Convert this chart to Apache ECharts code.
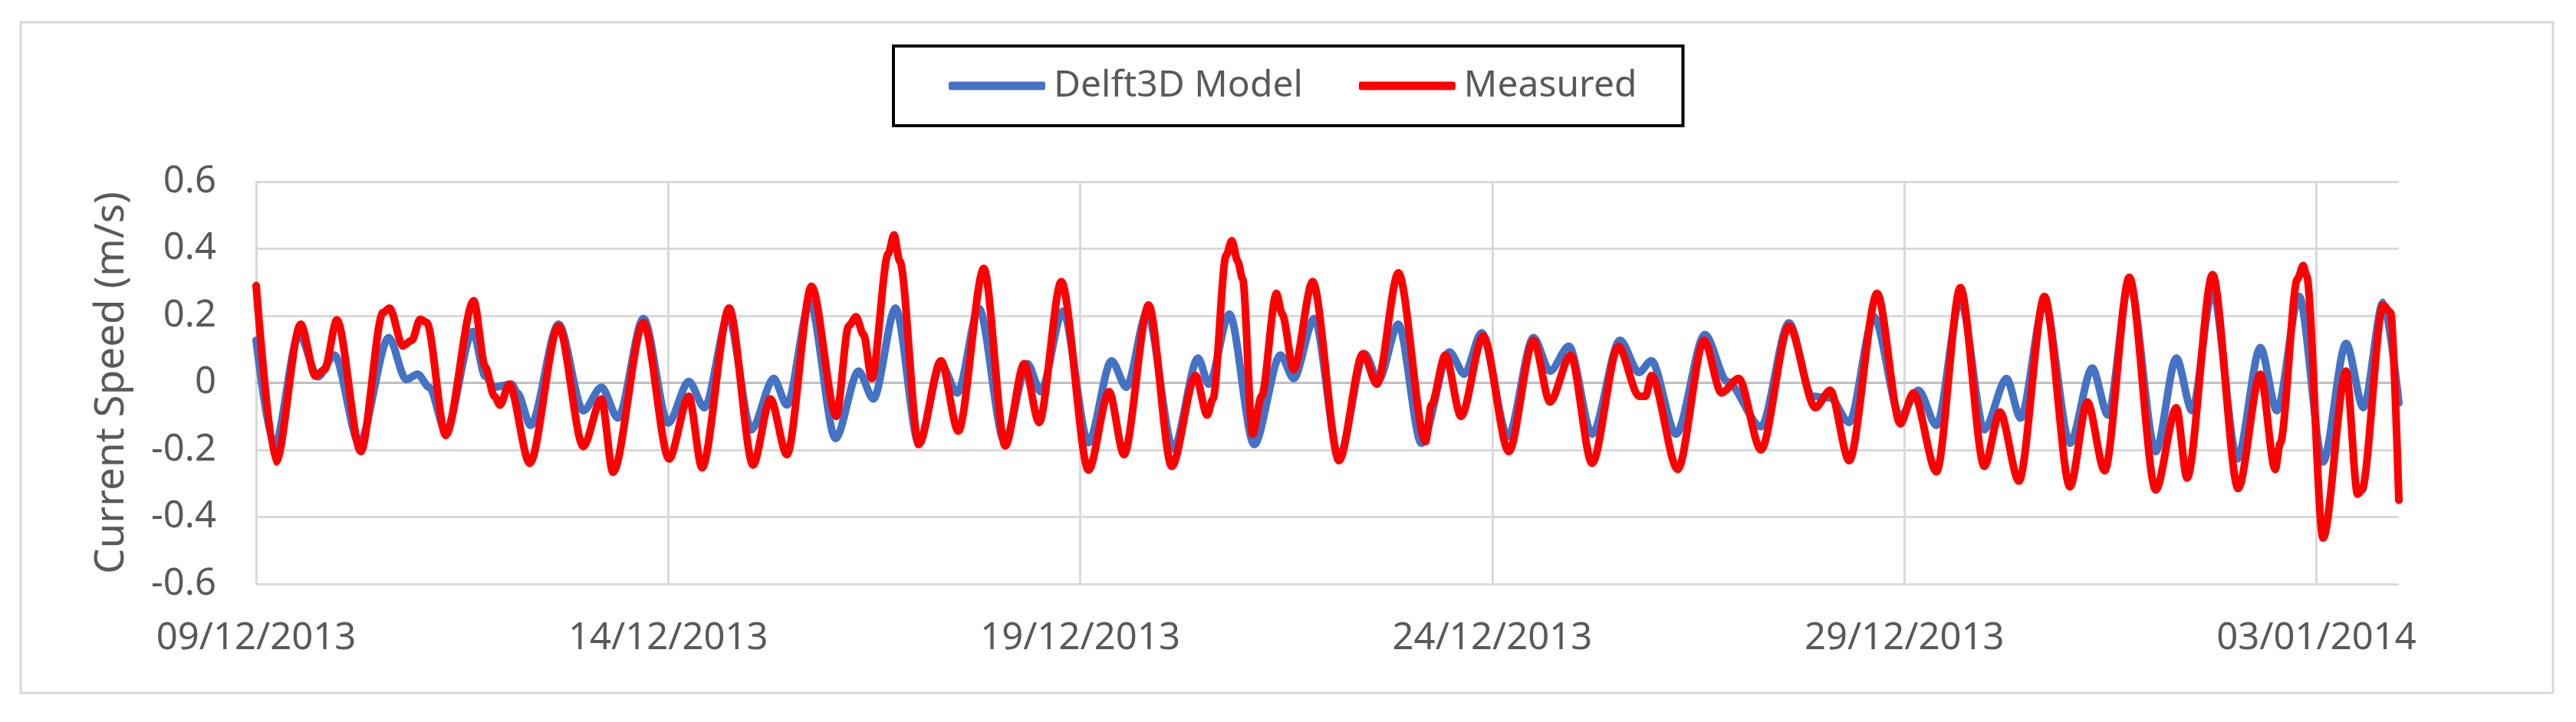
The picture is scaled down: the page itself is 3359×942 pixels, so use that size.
<!DOCTYPE html>
<html>
<head>
<meta charset="utf-8">
<script src="https://cdn.jsdelivr.net/npm/echarts@6/dist/echarts.min.js"></script>
<style>
  html, body { margin: 0; padding: 0; background: #ffffff; }
  #chart { width: 3359px; height: 942px; }
</style>
</head>
<body>
<div id="chart"></div>
<script>
// ---- Data (time in days since 09/12/2013 00:00) ----
const startDate = [2013, 11, 9]; // 09/12/2013
const xTicks = [0, 5, 10, 15, 20, 25];
const yTicks = [-0.6, -0.4, -0.2, 0, 0.2, 0.4, 0.6];
const seriesNames = ['Delft3D Model', 'Measured'];

const modelDays = [
  0.00, 0.22, 0.52, 0.75, 0.95, 1.25, 1.61, 1.82, 1.96, 2.10, 2.30, 2.63, 2.78, 2.89, 3.10, 3.17, 3.33,
  3.67, 3.97, 4.19, 4.39, 4.70, 5.00, 5.25, 5.44, 5.73, 6.01, 6.28, 6.44, 6.72, 7.03, 7.31, 7.49,
  7.76, 8.04, 8.31, 8.51, 8.77, 9.08, 9.36, 9.52, 9.79, 10.10, 10.38, 10.56, 10.81, 11.13, 11.43, 11.56,
  11.81, 12.11, 12.43, 12.59, 12.84, 13.14, 13.45, 13.62, 13.86, 14.14, 14.48, 14.66, 14.87, 15.19,
  15.50, 15.70, 15.93, 16.21, 16.55, 16.78, 16.93, 17.23, 17.58, 17.85, 18.26, 18.60, 18.88, 19.10,
  19.33, 19.63, 19.95, 20.17, 20.39, 20.68, 20.97, 21.24, 21.41, 21.70, 22.01, 22.28, 22.47, 22.73,
  23.05, 23.30, 23.49, 23.74, 24.04, 24.32, 24.52, 24.79, 25.08, 25.36, 25.57, 25.81, 26.00
];
const modelValues = [
  0.127, -0.19, 0.145, 0.018, 0.083, -0.18, 0.135, 0.01, 0.026, -0.013, -0.145, 0.153, 0.02, -0.013, -0.004, -0.03, -0.127,
  0.175, -0.083, -0.013, -0.105, 0.192, -0.12, 0.004, -0.074, 0.197, -0.14, 0.013, -0.066, 0.24, -0.166, 0.035, -0.048,
  0.223, -0.18, 0.057, -0.03, 0.223, -0.175, 0.057, -0.026, 0.214, -0.178, 0.066, -0.013, 0.21, -0.197, 0.074, -0.004,
  0.205, -0.184, 0.083, 0.013, 0.192, -0.223, 0.087, 0.009, 0.175, -0.18, 0.092, 0.026, 0.149, -0.16,
  0.135, 0.035, 0.109, -0.153, 0.127, 0.031, 0.066, -0.153, 0.144, 0.004, -0.131, 0.179, -0.04, -0.045,
  -0.118, 0.197, -0.10, -0.022, -0.127, 0.249, -0.14, 0.013, -0.105, 0.24, -0.18, 0.044, -0.096, 0.302,
  -0.205, 0.074, -0.083, 0.275, -0.227, 0.105, -0.083, 0.258, -0.236, 0.118, -0.074, 0.24, -0.06
];

const measuredDays = [
  0.00, 0.24, 0.54, 0.72, 0.83, 0.98, 1.27, 1.54, 1.62, 1.78, 1.89, 1.99, 2.07, 2.30, 2.64, 2.78, 2.89,
  2.96, 3.07, 3.32, 3.67, 3.97, 4.19, 4.33, 4.70, 5.01, 5.25, 5.41, 5.74, 6.03, 6.24, 6.44, 6.74,
  7.04, 7.19, 7.28, 7.37, 7.47, 7.67, 7.74, 7.81, 8.04, 8.31, 8.52, 8.83, 9.09, 9.32, 9.50, 9.77,
  10.10, 10.35, 10.53, 10.83, 11.11, 11.40, 11.54, 11.61, 11.77, 11.84, 11.91, 11.97, 12.09, 12.20,
  12.38, 12.45, 12.59, 12.82, 13.14, 13.43, 13.60, 13.86, 14.19, 14.26, 14.43, 14.62, 14.89, 15.20,
  15.50, 15.70, 15.95, 16.21, 16.53, 16.78, 16.86, 16.93, 17.25, 17.57, 17.78, 17.99, 18.26, 18.60,
  18.92, 19.10, 19.33, 19.67, 19.95, 20.11, 20.39, 20.68, 20.97, 21.16, 21.39, 21.70, 22.01, 22.22,
  22.43, 22.73, 23.05, 23.30, 23.43, 23.74, 24.05, 24.32, 24.50, 24.56, 24.77, 24.84, 24.88, 25.08,
  25.36, 25.50, 25.55, 25.81, 25.90, 26.00
];
const measuredValues = [
  0.29, -0.236, 0.175, 0.02, 0.04, 0.188, -0.205, 0.21, 0.223, 0.11, 0.127, 0.19, 0.18, -0.157, 0.245, 0.048, -0.04,
  -0.066, -0.004, -0.24, 0.17, -0.19, -0.048, -0.267, 0.18, -0.227, -0.04, -0.253, 0.223, -0.245, -0.048, -0.214, 0.288,
  -0.10, 0.17, 0.197, 0.144, 0.013, 0.385, 0.441, 0.363, -0.184, 0.066, -0.144, 0.341, -0.188, 0.057, -0.118, 0.302,
  -0.26, -0.026, -0.214, 0.232, -0.249, 0.022, -0.096, -0.048, 0.38, 0.424, 0.363, 0.31, -0.153, -0.04,
  0.267, 0.205, 0.039, 0.302, -0.232, 0.087, -0.004, 0.328, -0.175, -0.066, 0.083, -0.10, 0.14, -0.205,
  0.127, -0.057, 0.083, -0.24, 0.109, -0.04, -0.04, 0.022, -0.258, 0.127, -0.03, 0.013, -0.20, 0.17,
  -0.074, -0.022, -0.232, 0.267, -0.122, -0.03, -0.265, 0.284, -0.249, -0.087, -0.293, 0.258, -0.31, -0.057,
  -0.262, 0.315, -0.319, -0.074, -0.284, 0.323, -0.315, 0.026, -0.258, -0.18, 0.31, 0.35, 0.32, -0.463,
  0.035, -0.332, -0.32, 0.232, 0.21, -0.35
];

// ---- Helpers ----
function pad2(n) { return (n < 10 ? '0' : '') + n; }
function dayLabel(d) {
  const dt = new Date(Date.UTC(startDate[0], startDate[1], startDate[2]) + Math.round(d) * 86400000);
  return pad2(dt.getUTCDate()) + '/' + pad2(dt.getUTCMonth() + 1) + '/' + dt.getUTCFullYear();
}
function zipPairs(xs, ys) { return xs.map((x, i) => [x, ys[i]]); }

const textColor = '#595959';
const gridColor = '#d9d9d9';
const fontFamily = '"Noto Sans", "Open Sans", sans-serif';

const chart = echarts.init(document.getElementById('chart'), null, { renderer: 'canvas' });
chart.setOption({
  animation: false,
  backgroundColor: '#ffffff',
  graphic: [{
    type: 'rect',
    shape: { x: 27, y: 29, width: 3302, height: 875 },
    style: { fill: 'none', stroke: gridColor, lineWidth: 3 },
    silent: true, z: -1
  }],
  legend: {
    data: seriesNames,
    left: 1165,
    top: 60,
    orient: 'horizontal',
    padding: [28, 60, 28, 72],
    itemGap: 73,
    itemWidth: 126,
    itemHeight: 11,
    icon: 'roundRect',
    borderColor: '#000000',
    borderWidth: 4,
    textStyle: { fontFamily: fontFamily, fontSize: 48, color: textColor, padding: [0, 0, 0, 6] }
  },
  grid: { left: 334, right: 231, top: 237, bottom: 180, containLabel: false },
  xAxis: {
    type: 'value',
    min: xTicks[0],
    max: 26,
    interval: 5,
    axisLine: { show: true, lineStyle: { color: '#bfbfbf', width: 3 } },
    axisTick: { show: false },
    axisLabel: {
      margin: 47,
      fontFamily: fontFamily, fontSize: 49, color: textColor,
      showMaxLabel: false,
      formatter: function (v) { return xTicks.indexOf(v) >= 0 ? dayLabel(v) : ''; }
    },
    splitLine: { show: true, showMaxLine: false, lineStyle: { color: gridColor, width: 3 } }
  },
  yAxis: {
    type: 'value',
    min: yTicks[0],
    max: yTicks[yTicks.length - 1],
    interval: 0.2,
    name: 'Current Speed (m/s)',
    nameLocation: 'middle',
    nameGap: 162,
    nameTextStyle: { fontFamily: fontFamily, fontSize: 53, color: textColor },
    axisLine: { show: false },
    axisTick: { show: false },
    axisLabel: {
      margin: 52,
      fontFamily: fontFamily, fontSize: 49, color: textColor,
      formatter: function (v) { return String(parseFloat(v.toFixed(1))); }
    },
    splitLine: { show: true, lineStyle: { color: gridColor, width: 3 } }
  },
  series: [
    {
      name: seriesNames[0],
      type: 'line',
      data: zipPairs(modelDays, modelValues),
      showSymbol: false,
      symbol: 'none',
      smooth: 0.3,
      smoothMonotone: 'x',
      color: '#4472C4',
      lineStyle: { color: '#4472C4', width: 10, cap: 'round', join: 'round' }
    },
    {
      name: seriesNames[1],
      type: 'line',
      data: zipPairs(measuredDays, measuredValues),
      showSymbol: false,
      symbol: 'none',
      smooth: 0.3,
      smoothMonotone: 'x',
      color: '#FF0000',
      lineStyle: { color: '#FF0000', width: 10, cap: 'round', join: 'round' }
    }
  ]
});
</script>
</body>
</html>
